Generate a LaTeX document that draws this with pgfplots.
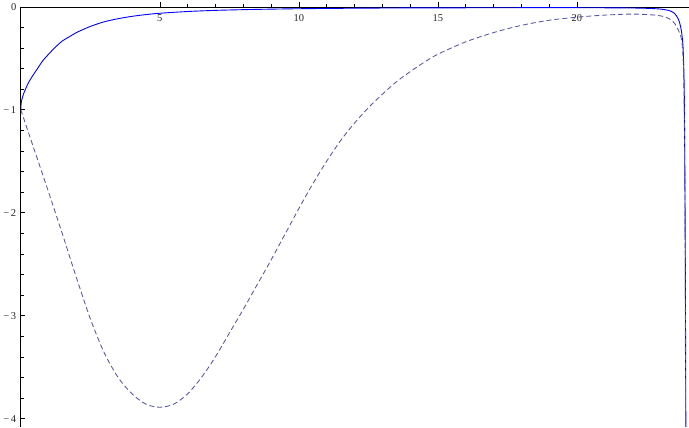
\documentclass[border=0pt]{standalone}
\usepackage{fontspec}
\setmainfont{Liberation Serif}
\usepackage{pgfplots}
\pgfplotsset{compat=1.18}

\definecolor{dashblue}{rgb}{0.33,0.33,0.66}

\begin{document}
\begin{tikzpicture}
\begin{axis}[
  scale only axis,
  width=668pt, height=420pt,
  xmin=0, xmax=24.02,
  ymin=-4.08, ymax=0,
  axis x line=top,
  axis y line=left,
  axis line style={-, line width=0.7pt, black},
  xtick={5,10,15,20},
  xticklabels={5,10,15,20},
  ytick={-4,-3,-2,-1,0},
  yticklabels={−\,4,−\,3,−\,2,−\,1,0},
  minor x tick num=4,
  minor y tick num=4,
  xtick align=outside,
  ytick align=inside,
  major tick length=4.5pt,
  minor tick length=3pt,
  tick style={black, line width=0.6pt},
  xticklabel style={anchor=north, yshift=-9pt, font=\fontsize{10.5}{12}\selectfont, text=black!85},
  yticklabel style={font=\fontsize{10.5}{12}\selectfont, text=black!85, xshift=-1pt},
]
% solid curve
\addplot[blue, line width=0.9pt, smooth, tension=0.5] coordinates {
  (0,-1) (0.01,-0.95) (0.03,-0.91) (0.05,-0.89) (0.1,-0.845) (0.2,-0.78)
  (0.3,-0.725) (0.45,-0.66) (0.6,-0.60) (0.8,-0.52) (1.0,-0.46) (1.25,-0.39)
  (1.5,-0.33) (1.75,-0.29) (2.0,-0.25) (2.5,-0.19) (3.0,-0.145) (3.5,-0.115)
  (4.0,-0.092) (4.5,-0.075) (5.0,-0.062) (6,-0.045) (7,-0.034) (8,-0.027)
  (9,-0.022) (10,-0.018) (12,-0.013) (14,-0.010) (16,-0.009) (18,-0.008)
  (20,-0.008) (21,-0.009) (22,-0.011) (22.5,-0.014) (23,-0.021) (23.3,-0.035)
  (23.5,-0.06) (23.65,-0.12) (23.75,-0.22) (23.82,-0.40) (23.86,-0.80)
  (23.88,-1.5) (23.90,-2.5) (23.92,-4.2)
};
% dashed curve
\addplot[dashblue, line width=0.85pt, dash pattern=on 5pt off 3pt, smooth, tension=0.5] coordinates {
  (0,-1.00) (0.5,-1.40) (1.0,-1.80) (1.5,-2.21) (2.0,-2.63) (2.5,-3.03)
  (3.0,-3.36) (3.5,-3.60) (4.0,-3.76) (4.5,-3.86) (5.0,-3.89) (5.5,-3.86)
  (6.0,-3.76) (6.5,-3.60) (7.0,-3.40) (7.5,-3.17) (8.0,-2.94) (8.5,-2.70)
  (9.0,-2.46) (9.5,-2.21) (10.0,-1.96) (10.5,-1.72) (11.0,-1.50) (11.5,-1.30)
  (12.0,-1.13) (12.5,-0.98) (13.0,-0.85) (13.5,-0.73) (14.0,-0.63)
  (14.5,-0.54) (15.0,-0.46) (16.0,-0.34) (17.0,-0.25) (18.0,-0.18)
  (19.0,-0.13) (20.0,-0.10) (21.0,-0.08) (22.0,-0.07) (22.8,-0.08)
  (23.2,-0.10) (23.45,-0.14) (23.6,-0.20) (23.75,-0.30) (23.82,-0.50)
  (23.86,-1.0) (23.89,-2.0) (23.91,-4.2)
};
\end{axis}
\end{tikzpicture}
\end{document}
